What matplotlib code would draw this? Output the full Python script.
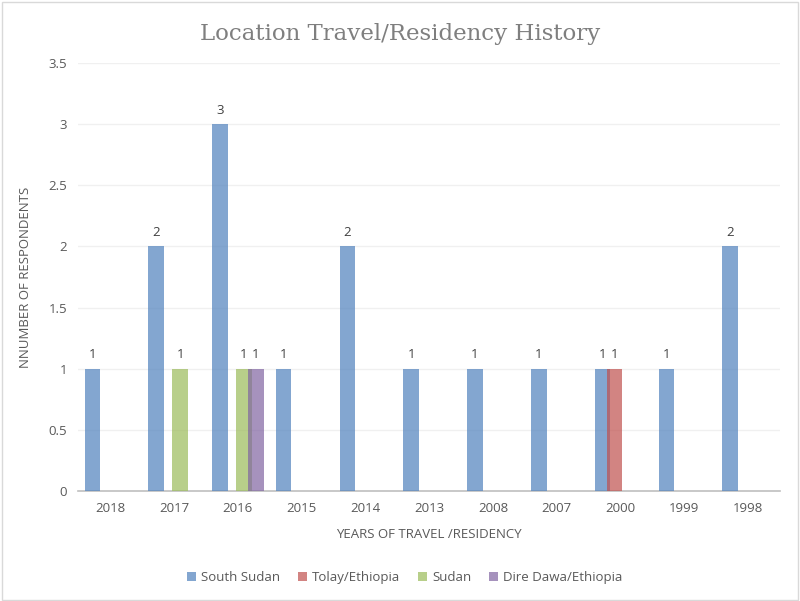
import matplotlib.pyplot as plt
import numpy as np
from matplotlib.patches import Rectangle

years = ['2018', '2017', '2016', '2015', '2014', '2013', '2008', '2007', '2000', '1999', '1998']
series = ['South Sudan', 'Tolay/Ethiopia', 'Sudan', 'Dire Dawa/Ethiopia']
south_sudan = [1, 2, 3, 1, 2, 1, 1, 1, 1, 1, 2]
tolay = [0, 0, 0, 0, 0, 0, 0, 0, 1, 0, 0]
sudan = [0, 1, 1, 0, 0, 0, 0, 0, 0, 0, 0]
dire_dawa = [0, 0, 1, 0, 0, 0, 0, 0, 0, 0, 0]
colors = ['#4F81BD', '#C0504D', '#9BBB59', '#8064A2']

plt.rcParams['font.family'] = ['Open Sans', 'DejaVu Sans']
fig = plt.figure(figsize=(8, 6.01), dpi=100)
ax = fig.add_axes([0.098, 0.183, 0.877, 0.712])

x = np.arange(len(years))
step = 0.188
width = 0.243
offsets = [-1.5 * step, -0.5 * step, 0.5 * step, 1.5 * step]
for vals, name, col, off in zip([south_sudan, tolay, sudan, dire_dawa], series, colors, offsets):
    bars = ax.bar(x + off, vals, width, color=col, alpha=0.7, label=name, zorder=3, linewidth=0)
    for b, v in zip(bars, vals):
        if v > 0:
            ax.text(b.get_x() + b.get_width() / 2, v + 0.06, str(v), ha='center', va='bottom',
                    fontsize=9.5, color='#404040')

ax.set_xlim(-0.5, len(years) - 0.5)
ax.set_ylim(0, 3.5)
ax.set_yticks(np.arange(0, 3.51, 0.5))
ax.set_yticklabels(['0', '0.5', '1', '1.5', '2', '2.5', '3', '3.5'])
ax.set_xticks(x)
ax.set_xticklabels(years)
ax.tick_params(axis='both', length=0, labelsize=9.5, colors='#595959', pad=8)
ax.grid(axis='y', color='#F0F0F0', linewidth=1, zorder=0)
for s in ['top', 'right', 'left']:
    ax.spines[s].set_visible(False)
ax.spines['bottom'].set_color('#BFBFBF')
ax.spines['bottom'].set_linewidth(1.2)

ax.set_xlabel('YEARS OF TRAVEL /RESIDENCY', fontsize=9.5, color='#595959', labelpad=9)
ax.set_ylabel('NNUMBER OF RESPONDENTS', fontsize=9.5, color='#595959', labelpad=12)

fig.text(0.5, 0.944, 'Location Travel/Residency History', ha='center', va='center',
         fontsize=16.5, color='#7F7F7F', family='DejaVu Serif')

ax.legend(loc='lower center', bbox_to_anchor=(0.465, -0.245), ncol=4, frameon=False,
          fontsize=9.5, handlelength=0.7, handleheight=0.7, columnspacing=1.3,
          handletextpad=0.4, labelcolor='#595959')

fig.patches.append(Rectangle((0.002, 0.002), 0.995, 0.995, transform=fig.transFigure,
                             fill=False, edgecolor='#D9D9D9', linewidth=1))

fig.savefig('out.png', dpi=100)
